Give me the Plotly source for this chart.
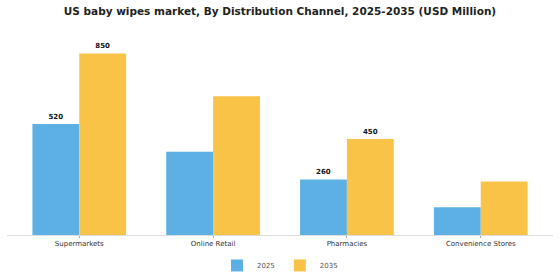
import plotly.graph_objects as go

categories = ["Supermarkets", "Online Retail", "Pharmacies", "Convenience Stores"]
values_2025 = [520, 390, 260, 130]
values_2035 = [850, 650, 450, 250]
labeled = [True, False, True, False]

text_2025 = [str(v) if s else "" for v, s in zip(values_2025, labeled)]
text_2035 = [str(v) if s else "" for v, s in zip(values_2035, labeled)]

fig = go.Figure()
fig.add_trace(go.Bar(x=categories, y=values_2025, name="2025", marker_color="#5DB0E4",
                     marker_line_width=0,
                     text=text_2025, textposition="outside", cliponaxis=False,
                     textfont=dict(size=7, color="#111", family="DejaVu Sans"),
                     texttemplate="<b>%{text}</b>"))
fig.add_trace(go.Bar(x=categories, y=values_2035, name="2035", marker_color="#F8C347",
                     marker_line_width=0,
                     text=text_2035, textposition="outside", cliponaxis=False,
                     textfont=dict(size=7, color="#111", family="DejaVu Sans"),
                     texttemplate="<b>%{text}</b>"))

fig.update_layout(
    width=560, height=280,
    margin=dict(l=7, r=7, t=40, b=45, autoexpand=False),
    paper_bgcolor="white", plot_bgcolor="white",
    barmode="group", bargap=0.30, bargroupgap=0,
    title=dict(text="<b>US baby wipes market, By Distribution Channel, 2025-2035 (USD Million)</b>",
               x=0.5, xanchor="center", y=0.96, yanchor="middle",
               font=dict(size=10.5, family="DejaVu Sans", color="#222")),
    font=dict(family="DejaVu Sans", size=7, color="#333"),
    legend=dict(orientation="h", x=0.5, xanchor="center", yref="container", y=0.052, yanchor="middle",
                font=dict(size=7, color="#555"), itemwidth=30),
    showlegend=True,
)
fig.update_xaxes(showline=True, linecolor="#DDDDDD", linewidth=1, ticks="outside", ticklen=2,
                 tickcolor="#AAAAAA", tickwidth=1,
                 tickfont=dict(size=7, color="#333"), range=[-0.54, 3.54])
fig.update_yaxes(visible=False, range=[0, 913], showgrid=False)

fig.write_html("out.html")
